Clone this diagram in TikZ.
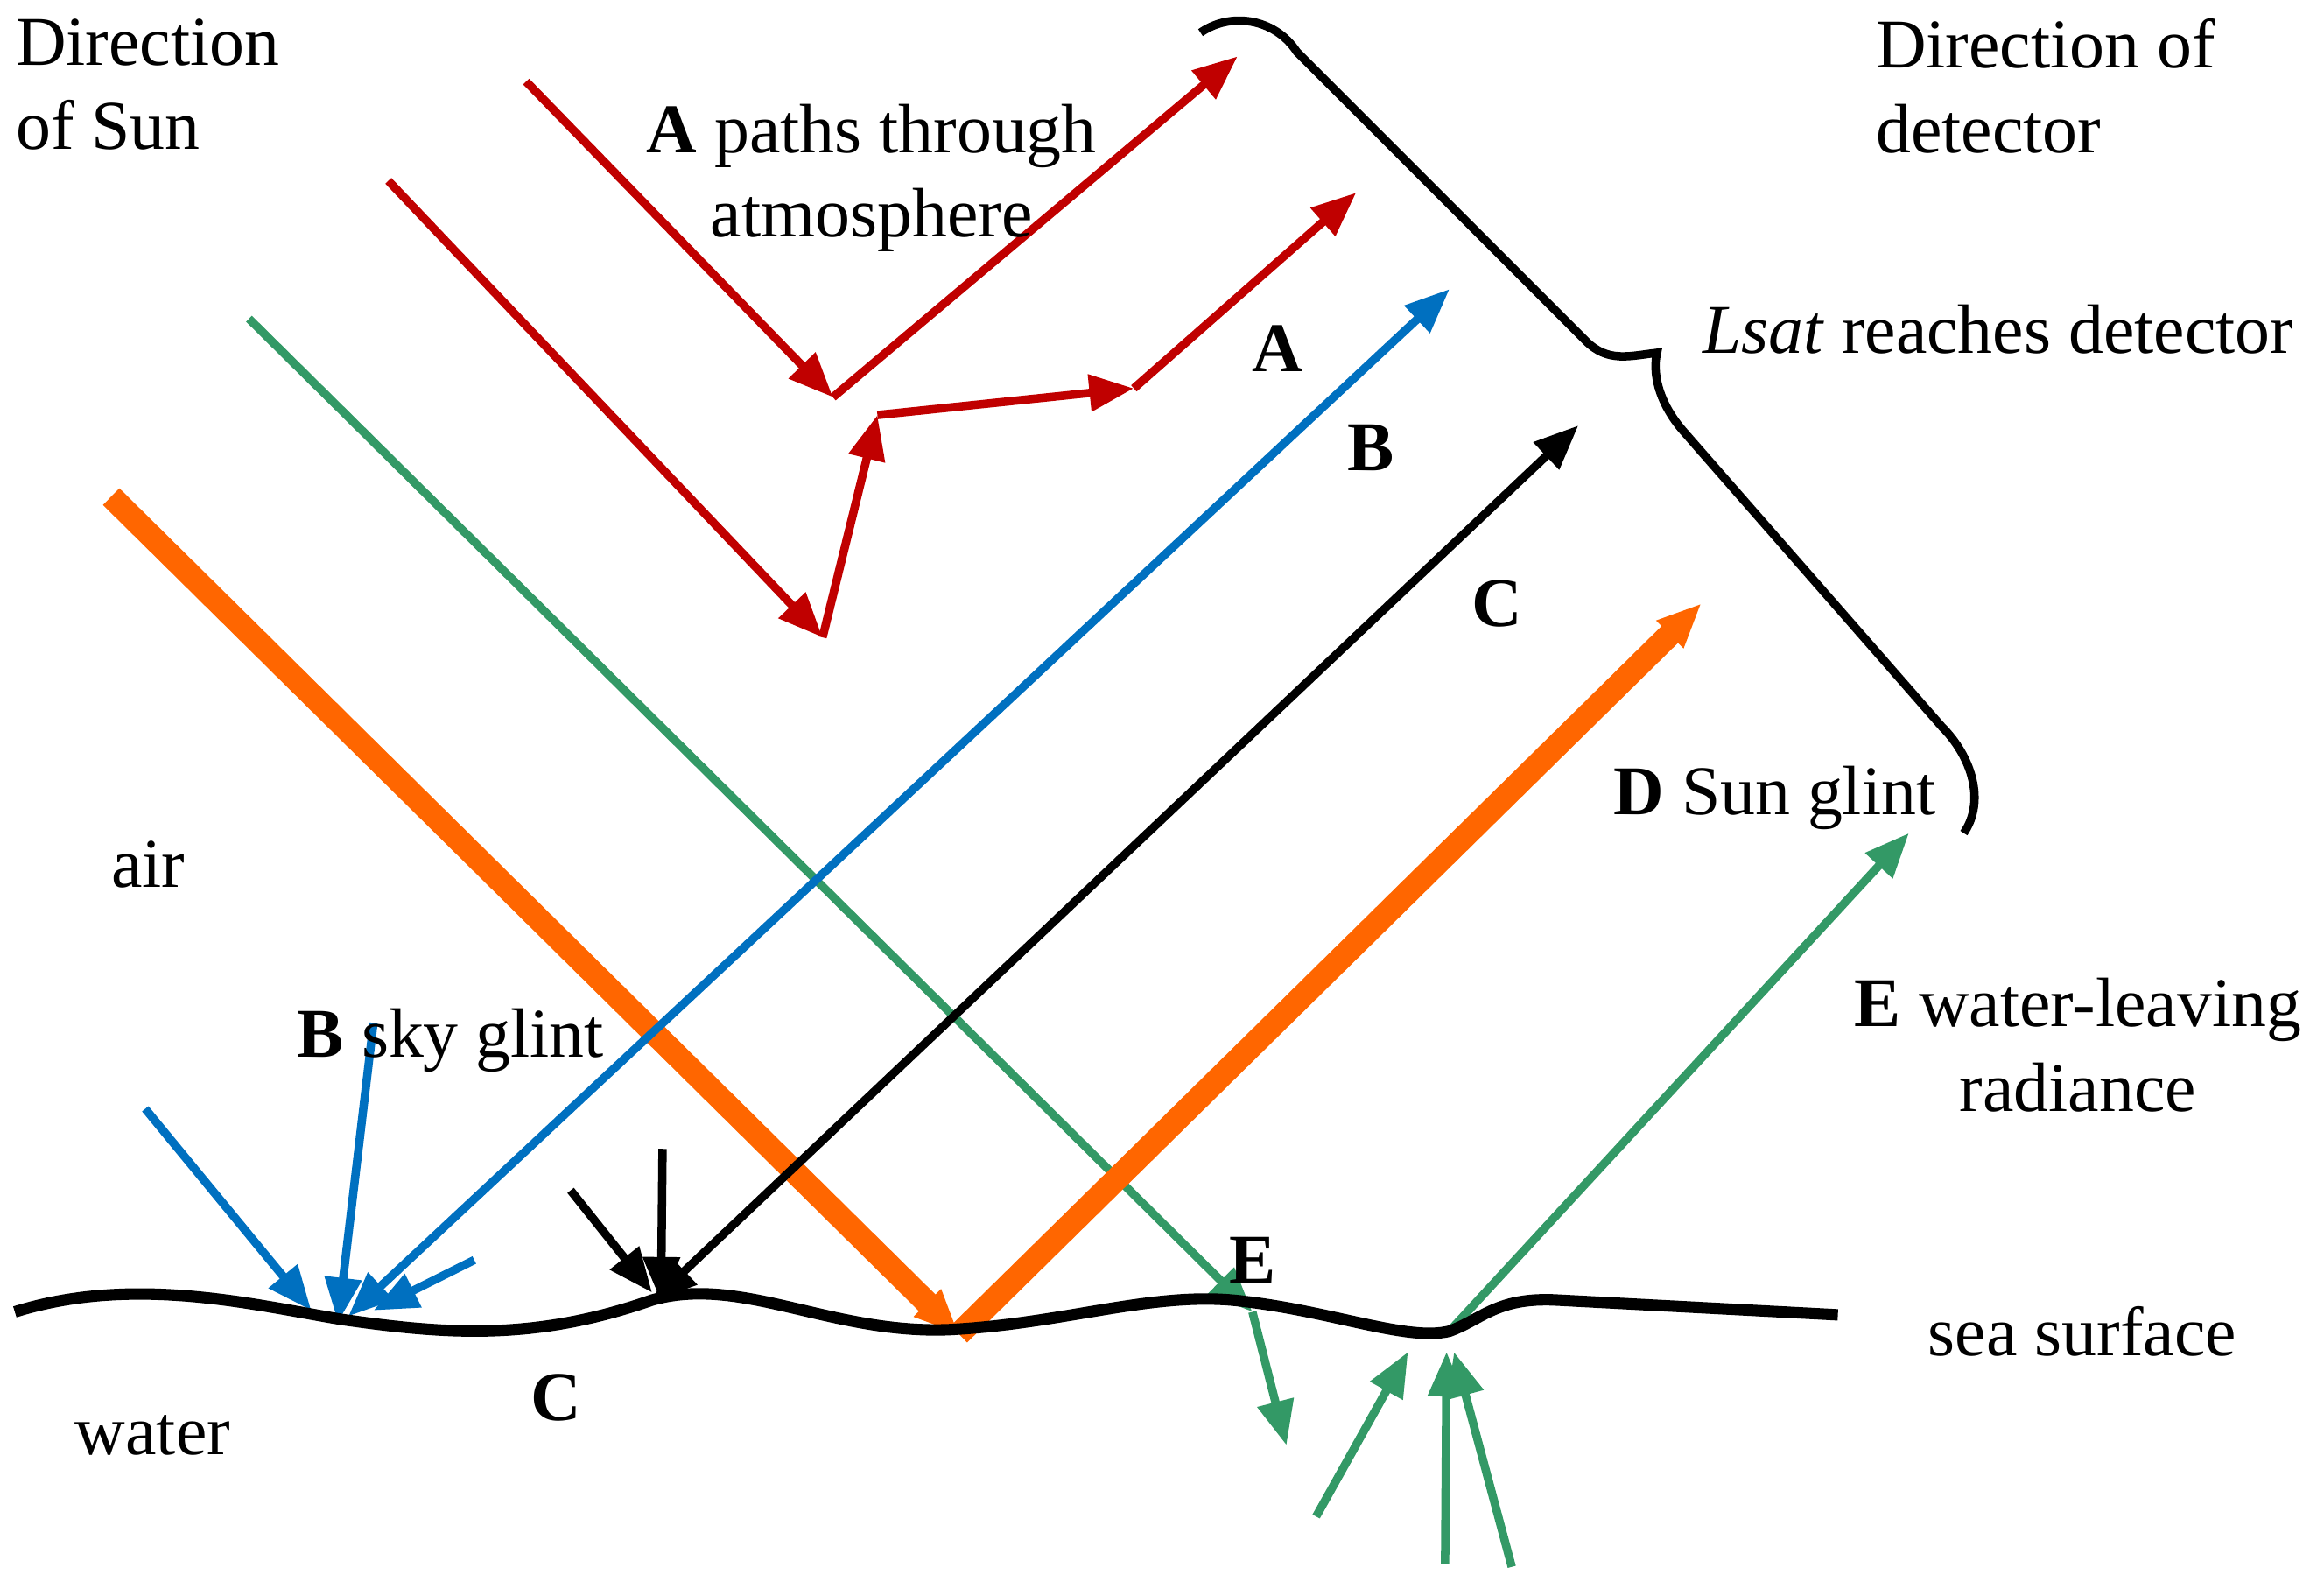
\documentclass[tikz,border=0pt]{standalone}
\usepackage{fontspec}
\setmainfont{Liberation Serif}
\usetikzlibrary{arrows.meta}
\definecolor{cred}{RGB}{192,0,0}
\definecolor{cblue}{RGB}{0,112,192}
\definecolor{cgreen}{RGB}{51,153,102}
\definecolor{corange}{RGB}{255,102,0}
\begin{document}
\begin{tikzpicture}[x=0.01cm,y=-0.01cm,
  tip/.style={-{Triangle[length=0.3cm,width=0.24cm]}},
  ray/.style={tip, line width=1.6pt},
  lab/.style={font=\fontsize{13.4}{16.2}\selectfont, inner sep=0pt},
  bl/.style={lab, font=\fontsize{13.4}{16.2}\selectfont\bfseries}]
\useasboundingbox (0,0) rectangle (1568,1067);
% red paths through atmosphere
\coordinate (r1) at (355,55); \coordinate (r2) at (562,268); \coordinate (r3) at (835,38);
\draw[ray,cred] (r1) -- (r2);
\draw[ray,cred] (r2) -- (r3);
\coordinate (s1) at (262,122); \coordinate (s2) at (555,430); \coordinate (s3) at (592,280);
\coordinate (s4) at (765,262); \coordinate (s5) at (915,130);
\draw[ray,cred] (s1) -- (s2);
\draw[ray,cred] (s2) -- (s3);
\draw[ray,cred] (s3) -- (s4);
\draw[ray,cred] (s4) -- (s5);
% green water-leaving
\coordinate (g1) at (168,215); \coordinate (g2) at (845,885); \coordinate (g3) at (868,975);
\draw[ray,cgreen] (g1) -- (g2);
\draw[ray,cgreen] (g2) -- (g3);
\coordinate (e0) at (978,898); \coordinate (e1) at (1288,562);
\draw[ray,cgreen] (e0) -- (e1);
\coordinate (u1) at (888,1023); \coordinate (u1t) at (950,912);
\coordinate (u2) at (975,1055); \coordinate (u2t) at (976,912);
\coordinate (u3) at (1020,1057); \coordinate (u3t) at (981,912);
\draw[ray,cgreen] (u1) -- (u1t);
\draw[ray,cgreen] (u2) -- (u2t);
\draw[ray,cgreen] (u3) -- (u3t);
% orange sun glint
\coordinate (o1) at (75,335); \coordinate (o2) at (647,900); \coordinate (o3) at (1148,407);
\draw[tip,corange,line width=4.5pt] (o1) -- (o2);
\draw[tip,corange,line width=4.5pt] (o2) -- (o3);
% blue sky glint
\coordinate (b0) at (235,888); \coordinate (b1) at (978,195);
\draw[ray,cblue,{Triangle[length=0.3cm,width=0.24cm]}-{Triangle[length=0.3cm,width=0.24cm]}] (b0) -- (b1);
\coordinate (bs1) at (98,748); \coordinate (bs1t) at (210,884);
\coordinate (bs2) at (252,690); \coordinate (bs2t) at (228,892);
\coordinate (bs3) at (320,850); \coordinate (bs3t) at (252,884);
\draw[ray,cblue] (bs1) -- (bs1t);
\draw[ray,cblue] (bs2) -- (bs2t);
\draw[ray,cblue] (bs3) -- (bs3t);
% black C
\coordinate (k0) at (440,878); \coordinate (k1) at (1065,287);
\draw[ray,black,{Triangle[length=0.3cm,width=0.24cm]}-{Triangle[length=0.3cm,width=0.24cm]}] (k0) -- (k1);
\coordinate (ks1) at (447,775); \coordinate (ks1t) at (446,878);
\coordinate (ks2) at (385,803); \coordinate (ks2t) at (440,872);
\draw[ray,black] (ks1) -- (ks1t);
\draw[ray,black] (ks2) -- (ks2t);
% sea surface
\draw[line width=2.2pt] (10,885) .. controls (90,860) and (170,880) .. (230,890)
  .. controls (300,900) and (360,905) .. (440,877)
  .. controls (500,860) and (560,900) .. (640,897)
  .. controls (720,893) and (780,870) .. (840,878)
  .. controls (900,885) and (950,905) .. (978,898)
  .. controls (1000,890) and (1010,875) .. (1050,877)
  -- (1240,887);
% brace
\draw[line width=1.6pt] (810,22) .. controls (830,8) and (860,12) .. (875,35)
  -- (1070,230) .. controls (1085,245) and (1100,240) .. (1118,238)
  .. controls (1115,250) and (1118,270) .. (1135,290)
  -- (1310,490) .. controls (1330,510) and (1340,540) .. (1325,562);
% labels
\node[lab,anchor=north west,align=left] (t1) at (10,12) {Direction\\of Sun};
\node[lab,anchor=north west,align=left] (t2) at (1265,12) {Direction of\\detector};
\node[lab,align=center] (t3) at (588,120) {\textbf{A} paths through\\atmosphere};
\node[lab,anchor=west] (t4) at (1148,222) {\textit{Lsat} reaches detector};
\node[bl] (la) at (862,235) {A};
\node[bl] (lb) at (925,302) {B};
\node[bl] (lc) at (1010,407) {C};
\node[lab,anchor=west] (ld) at (1088,538) {\textbf{D} Sun glint};
\node[lab] (air) at (100,583) {air};
\node[lab,align=center] (le) at (1402,705) {\textbf{E} water-leaving\\radiance};
\node[lab,anchor=west] (lbs) at (200,702) {\textbf{B} sky glint};
\node[bl] (le2) at (845,850) {E};
\node[lab] (sea) at (1405,898) {sea surface};
\node[bl] (lc2) at (375,943) {C};
\node[lab] (wat) at (103,968) {water};
\end{tikzpicture}
\end{document}
